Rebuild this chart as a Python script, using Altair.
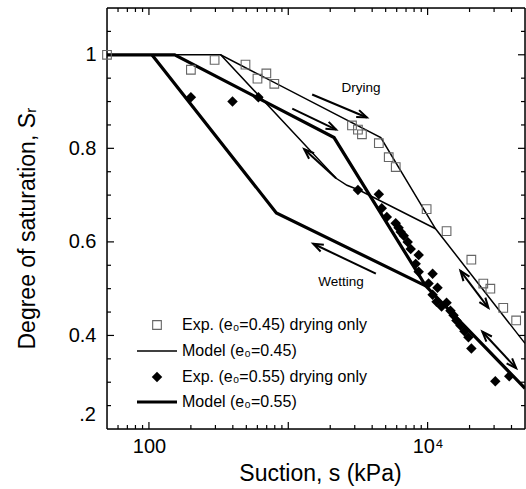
import math
import altair as alt
import pandas as pd

# ---------------- data ----------------
# Experimental points, e0 = 0.45 (open squares)
exp45_s = [50, 200, 296, 493, 601, 696, 794, 2866, 3162, 3378, 4467, 5260, 5906,
           9840, 13680, 20600, 25100, 28200, 34900, 43200]
exp45_sr = [1.0, 0.968, 0.989, 0.979, 0.949, 0.960, 0.938, 0.849, 0.840, 0.830, 0.811,
            0.781, 0.760, 0.670, 0.623, 0.562, 0.511, 0.500, 0.459, 0.432]

# Experimental points, e0 = 0.55 (filled diamonds)
exp55_s = [200, 398, 610, 3162, 4467, 4688, 5096, 5900, 6190, 6412, 6741, 7197, 7562,
           8630, 8210, 8630, 10860, 10160, 11780, 10860, 11590, 13680, 12600, 14590,
           15350, 16110, 17210, 18380, 19630, 20610, 30600, 38530]
exp55_sr = [0.909, 0.900, 0.909, 0.711, 0.702, 0.672, 0.653, 0.640, 0.630, 0.621, 0.613,
            0.600, 0.585, 0.572, 0.553, 0.536, 0.532, 0.511, 0.502, 0.487, 0.472, 0.470,
            0.462, 0.453, 0.443, 0.432, 0.421, 0.409, 0.396, 0.372, 0.302, 0.313]

# Model paths
thin_dry_s = [50, 327, 4613, 11400, 50000]
thin_dry_sr = [1.0, 1.0, 0.823, 0.628, 0.383]
thin_wet_s = [11400, 3215, 2638, 2203, 327]
thin_wet_sr = [0.628, 0.711, 0.721, 0.736, 1.0]
thick_dry_s = [50, 153, 2131, 9680, 50000]
thick_dry_sr = [1.0, 1.0, 0.823, 0.506, 0.287]
thick_wet_s = [9680, 821, 105]
thick_wet_sr = [0.506, 0.662, 1.0]

# Annotation arrows (tail -> tip), in data units
arrow_tail_s = [1484, 1068, 2203, 4254, 17200, 24700]
arrow_tail_sr = [0.915, 0.885, 0.736, 0.532, 0.538, 0.408]
arrow_tip_s = [3664, 2203, 1301, 1510, 27300, 43200]
arrow_tip_sr = [0.866, 0.840, 0.798, 0.596, 0.459, 0.330]
arrow_double = [False, False, False, False, True, True]

notes_text = ["Drying", "Wetting"]
notes_s = [3320, 2393]
notes_sr = [0.928, 0.515]

legend_labels = ["Exp. (e\u2080=0.45) drying only", "Model (e\u2080=0.45)",
                 "Exp. (e\u2080=0.55) drying only", "Model (e\u2080=0.55)"]

x_major = [100, 1000, 10000]
x_minor = [60, 70, 80, 90, 200, 300, 400, 500, 600, 700, 800, 900,
           2000, 3000, 4000, 5000, 6000, 7000, 8000, 9000, 20000, 30000, 40000]
y_major = [0.4, 0.6, 0.8, 1.0]
y_minor = [0.25, 0.3, 0.35, 0.45, 0.5, 0.55, 0.65, 0.7, 0.75, 0.85, 0.9, 0.95, 1.05]

# ---------------- layout ----------------
W, H = 418, 421
XDOM = [50, 50000]
YDOM = [0.2, 1.1]
FONT = "Liberation Sans"

xscale = alt.Scale(type="log", domain=XDOM, nice=False)
yscale = alt.Scale(domain=YDOM, nice=False, zero=False)

xaxis = alt.Axis(values=[100, 10000], labelExpr="datum.value == 100 ? '100' : '10\u2074'",
                 ticks=False, domain=False, grid=False, labelFontSize=20,
                 labelPadding=7, labelColor="black", labelFont=FONT,
                 titleFontSize=23, titleFontWeight="normal", titleFont=FONT,
                 titleColor="black", titleX=213, titleY=51,
                 titleBaseline="alphabetic", labelFlush=False)
yaxis = alt.Axis(values=y_major, labelExpr="datum.value == 1 ? '1' : format(datum.value, '.1f')",
                 ticks=False, domain=False, grid=False, labelFontSize=20,
                 labelPadding=11, labelColor="black", labelFont=FONT,
                 titleFontSize=23, titleFontWeight="normal", titleFont=FONT,
                 titleColor="black", titleX=-73, titleY=220, titleAngle=270,
                 titleBaseline="alphabetic", labelFlush=False)
XT = "Suction, s (kPa)"
YT = "Degree of saturation, S\u1d63"


def X(field="s"):
    return alt.X(f"{field}:Q", scale=xscale, axis=xaxis, title=XT)


def Y(field="sr"):
    return alt.Y(f"{field}:Q", scale=yscale, axis=yaxis, title=YT)


def px(s):
    return (math.log10(s) - math.log10(XDOM[0])) / (math.log10(XDOM[1]) - math.log10(XDOM[0])) * W


def py(v):
    return (YDOM[1] - v) / (YDOM[1] - YDOM[0]) * H


axis_df = pd.DataFrame({"s": [100], "sr": [0.4]})
base = alt.Chart(axis_df).mark_point(opacity=0).encode(x=X(), y=Y())

# lowest y label, drawn as text (it sits a little above its tick in the reference)
low_label = alt.Chart(pd.DataFrame({"s": [XDOM[0]], "sr": [0.2], "t": [".2"]})).mark_text(
    align="right", baseline="middle", fontSize=20, font=FONT, color="black", dy=-14, dx=-11
).encode(x=X(), y=Y(), text="t:N")

# ---------------- frame and inward ticks ----------------
layers = []
frame_x = pd.DataFrame({"s": XDOM})
frame_y = pd.DataFrame({"sr": YDOM})
layers.append(alt.Chart(frame_x).mark_rule(color="black", strokeWidth=1.5).encode(
    x=X(), y=alt.value(0), y2=alt.value(H)))
layers.append(alt.Chart(frame_y).mark_rule(color="black", strokeWidth=1.5).encode(
    y=Y(), x=alt.value(0), x2=alt.value(W)))
for vals, ln in ((x_major, 7), (x_minor, 4)):
    d = pd.DataFrame({"s": vals})
    layers.append(alt.Chart(d).mark_rule(color="black", strokeWidth=1.2).encode(
        x=X(), y=alt.value(H), y2=alt.value(H - ln)))
    layers.append(alt.Chart(d).mark_rule(color="black", strokeWidth=1.2).encode(
        x=X(), y=alt.value(0), y2=alt.value(ln)))
for vals, ln in ((y_major, 7), (y_minor, 4)):
    d = pd.DataFrame({"sr": vals})
    layers.append(alt.Chart(d).mark_rule(color="black", strokeWidth=1.2).encode(
        y=Y(), x=alt.value(0), x2=alt.value(ln)))
    layers.append(alt.Chart(d).mark_rule(color="black", strokeWidth=1.2).encode(
        y=Y(), x=alt.value(W), x2=alt.value(W - ln)))

# ---------------- model lines ----------------
def path_df(name, s, sr):
    return pd.DataFrame({"series": name, "i": list(range(len(s))), "s": s, "sr": sr})


thin_df = pd.concat([path_df("thin_dry", thin_dry_s, thin_dry_sr),
                     path_df("thin_wet", thin_wet_s, thin_wet_sr)])
thick_df = pd.concat([path_df("thick_dry", thick_dry_s, thick_dry_sr),
                      path_df("thick_wet", thick_wet_s, thick_wet_sr)])

thin_lines = alt.Chart(thin_df).mark_line(color="black", strokeWidth=1.5, clip=True).encode(
    x=X(), y=Y(), detail="series:N", order="i:Q")
thick_lines = alt.Chart(thick_df).mark_line(color="black", strokeWidth=3.2, clip=True).encode(
    x=X(), y=Y(), detail="series:N", order="i:Q")

# ---------------- experimental points ----------------
sq = alt.Chart(pd.DataFrame({"s": exp45_s, "sr": exp45_sr})).mark_point(
    shape="square", filled=False, color="#666666", strokeWidth=1.1, size=75, opacity=1
).encode(x=X(), y=Y())
dm = alt.Chart(pd.DataFrame({"s": exp55_s, "sr": exp55_sr})).mark_point(
    shape="diamond", filled=True, color="black", size=110, opacity=1
).encode(x=X(), y=Y())

# ---------------- arrows ----------------
shaft_rows = []
head_rows = []
for k in range(len(arrow_tail_s)):
    shaft_rows.append({"k": k, "i": 0, "s": arrow_tail_s[k], "sr": arrow_tail_sr[k]})
    shaft_rows.append({"k": k, "i": 1, "s": arrow_tip_s[k], "sr": arrow_tip_sr[k]})
    dx = px(arrow_tip_s[k]) - px(arrow_tail_s[k])
    dy = py(arrow_tip_sr[k]) - py(arrow_tail_sr[k])
    ang = math.degrees(math.atan2(dx, -dy)) % 360
    head_rows.append({"s": arrow_tip_s[k], "sr": arrow_tip_sr[k], "angle": ang})
    if arrow_double[k]:
        head_rows.append({"s": arrow_tail_s[k], "sr": arrow_tail_sr[k], "angle": (ang + 180) % 360})

shafts = alt.Chart(pd.DataFrame(shaft_rows)).mark_line(color="black", strokeWidth=2).encode(
    x=X(), y=Y(), detail="k:N", order="i:Q")
heads = alt.Chart(pd.DataFrame(head_rows)).mark_point(
    shape="M -0.75 2 L 0 0 L 0.75 2", filled=False, color="black", strokeWidth=2,
    size=100, opacity=1
).encode(x=X(), y=Y(), angle=alt.Angle("angle:Q", scale=None))

notes = alt.Chart(pd.DataFrame({"s": notes_s, "sr": notes_sr, "t": notes_text})).mark_text(
    fontSize=13.5, font=FONT, color="black", baseline="middle", align="center"
).encode(x=X(), y=Y(), text="t:N")

# ---------------- legend (drawn inside the plot) ----------------
leg_y = [317, 343, 369, 394]
leg_text = alt.Chart(pd.DataFrame({"t": legend_labels, "py": leg_y})).mark_text(
    align="left", baseline="middle", fontSize=16, font=FONT, color="black"
).encode(x=alt.value(75), y=alt.Y("py:Q", scale=None, axis=None), text="t:N")
leg_sq = alt.Chart(axis_df).mark_point(shape="square", filled=False, color="#666666",
                                       strokeWidth=1.1, size=75, opacity=1).encode(
    x=alt.value(50), y=alt.value(leg_y[0]))
leg_thin = alt.Chart(axis_df).mark_rule(color="black", strokeWidth=1.5).encode(
    x=alt.value(30), x2=alt.value(70), y=alt.value(leg_y[1]))
leg_dm = alt.Chart(axis_df).mark_point(shape="diamond", filled=True, color="black",
                                       size=110, opacity=1).encode(
    x=alt.value(50), y=alt.value(leg_y[2]))
leg_thick = alt.Chart(axis_df).mark_rule(color="black", strokeWidth=3.2).encode(
    x=alt.value(30), x2=alt.value(70), y=alt.value(leg_y[3]))

chart = alt.layer(
    base, low_label, *layers, thin_lines, thick_lines, shafts, heads, sq, dm, notes,
    leg_sq, leg_thin, leg_dm, leg_thick, leg_text
).properties(
    width=W, height=H,
    autosize=alt.AutoSizeParams(type="none"),
    padding={"left": 107, "top": 8, "right": 1, "bottom": 60},
    background="white",
).configure_view(stroke=None).configure(font=FONT)

chart.save("out.html", embed_options={"renderer": "svg", "actions": False})
